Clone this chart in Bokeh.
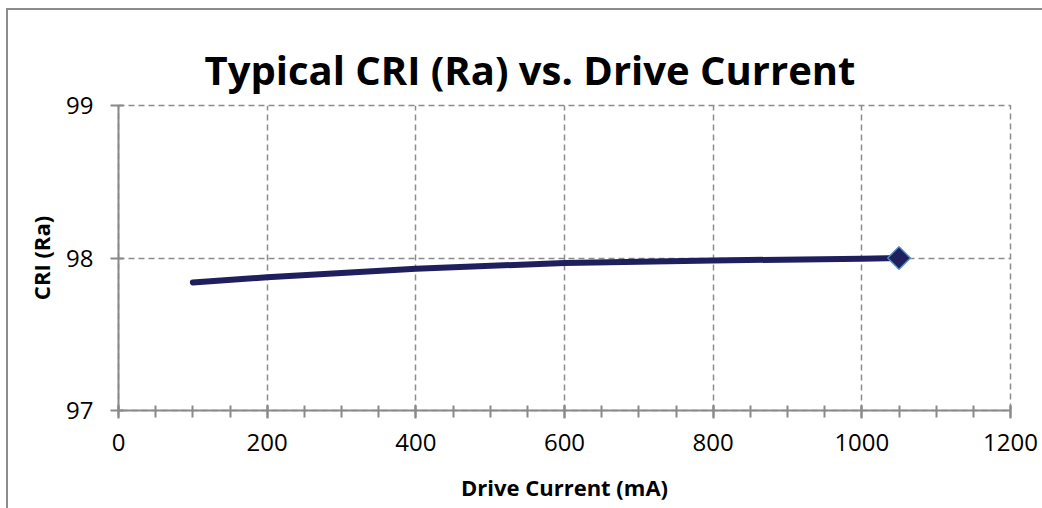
from bokeh.plotting import figure
from bokeh.models import Range1d, SingleIntervalTicker
from bokeh.embed import file_html
from bokeh.resources import INLINE

# Data
current_ma = [100, 200, 400, 600, 800, 1000, 1050]
cri_ra = [97.84, 97.874, 97.929, 97.968, 97.984, 97.995, 98.0]
marker_x = [1050]
marker_y = [98.0]

title_text = "Typical CRI (Ra) vs. Drive Current"
x_label = "Drive Current (mA)"
y_label = "CRI (Ra)"

FONT = "Open Sans"
GRAY = "#8a8a8a"

bg = ("linear-gradient(#8c8c8c,#8c8c8c) 6px 8px / 2px 100% no-repeat, "
      "linear-gradient(#8c8c8c,#8c8c8c) 6px 8px / 100% 2px no-repeat, white")

p = figure(width=1042, height=508, output_backend="svg", toolbar_location=None,
           x_range=Range1d(0, 1200), y_range=Range1d(97, 99),
           min_border_left=118, min_border_top=105, min_border_right=32, min_border_bottom=98,
           styles={"background": bg})
p.outline_line_color = "#8c8c8c"
p.outline_line_width = 1.5
p.outline_line_dash = "6 4"
p.background_fill_color = "white"
p.border_fill_color = None

p.title.text = title_text
p.title.text_font = FONT
p.title.text_font_style = "bold"
p.title.text_font_size = "40px"
p.title.text_color = "black"
p.title.align = "left"
p.title.offset = 86
p.title.standoff = 17

p.xaxis.ticker = SingleIntervalTicker(interval=200, num_minor_ticks=4)
p.yaxis.ticker = SingleIntervalTicker(interval=1, num_minor_ticks=0)

for ax in (p.xaxis, p.yaxis):
    ax.axis_line_color = GRAY
    ax.axis_line_width = 2
    ax.major_tick_line_color = GRAY
    ax.major_tick_line_width = 2
    ax.minor_tick_line_color = GRAY
    ax.minor_tick_line_width = 2
    ax.major_tick_in = 5
    ax.major_tick_out = 8
    ax.minor_tick_in = 5
    ax.minor_tick_out = 7
    ax.major_label_text_font = FONT
    ax.major_label_text_font_size = "24px"
    ax.major_label_text_color = "black"
    ax.axis_label_text_font = FONT
    ax.axis_label_text_font_style = "bold"
    ax.axis_label_text_font_size = "22px"
    ax.axis_label_text_color = "black"

p.xaxis.axis_label = x_label
p.yaxis.axis_label = y_label
p.xaxis.major_label_standoff = 15
p.yaxis.major_label_standoff = 17
p.xaxis.axis_label_standoff = 18
p.yaxis.axis_label_standoff = 7

for g in (p.xgrid, p.ygrid):
    g.grid_line_color = "#8c8c8c"
    g.grid_line_width = 1.5
    g.grid_line_dash = "6 4"

p.line(current_ma, cri_ra, line_color="#1f1f5e", line_width=6, line_cap="round", line_join="round")
p.scatter(marker_x, marker_y, marker="square", angle=0.785398, size=16, fill_color="#1f1f5e",
          line_color="#4f86c6", line_width=1.5)

open("out.html", "w").write(file_html(p, INLINE))
